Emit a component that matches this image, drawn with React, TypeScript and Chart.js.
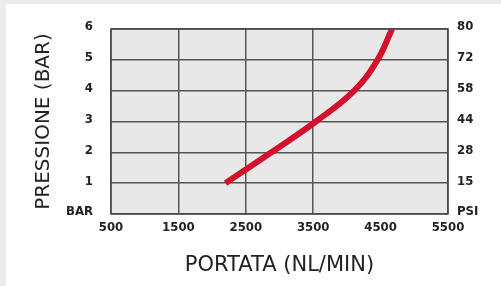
import React, { useEffect, useRef } from "react";
import { Chart, registerables } from "chart.js";

Chart.register(...registerables);

const flowValues = [2200, 2880, 3540, 4110, 4455, 4670];
const pressureValues = [1, 2, 3, 4, 5, 6];
const psiLabels = ["PSI", "15", "28", "44", "58", "72", "80"];
const barLabels = ["BAR", "1", "2", "3", "4", "5", "6"];
const xTitle = "PORTATA (NL/MIN)";
const yTitle = "PRESSIONE (BAR)";

const W = 501;
const H = 286;
const PLOT_L = 111;
const PLOT_R = 448;
const PLOT_T = 29;
const PLOT_B = 214;

const tickFont = { family: "'DejaVu Sans Condensed', sans-serif", size: 13, weight: "bold" as const };

const bgPlugin = {
  id: "bgPlugin",
  beforeDraw(chart: any) {
    const { ctx, chartArea } = chart;
    ctx.save();
    ctx.fillStyle = "#ffffff";
    ctx.fillRect(0, 0, W, H);
    ctx.fillStyle = "#ebebeb";
    ctx.fillRect(0, 0, W, 4);
    ctx.fillRect(0, 0, 6, H);
    ctx.fillStyle = "#e8e8e8";
    ctx.fillRect(chartArea.left, chartArea.top, chartArea.right - chartArea.left, chartArea.bottom - chartArea.top);
    ctx.restore();
  },
  afterDatasetsDraw(chart: any) {
    const { ctx, chartArea } = chart;
    ctx.save();
    ctx.strokeStyle = "#4a4a4a";
    ctx.lineWidth = 1.5;
    ctx.strokeRect(chartArea.left, chartArea.top, chartArea.right - chartArea.left, chartArea.bottom - chartArea.top);
    ctx.restore();
  },
};

export default function App() {
  const ref = useRef<HTMLCanvasElement>(null);
  useEffect(() => {
    document.body.style.margin = "0";
    const data = flowValues.map((x, i) => ({ x, y: pressureValues[i] }));
    const chart = new Chart(ref.current!, {
      type: "scatter",
      data: {
        datasets: [
          {
            data,
            showLine: true,
            borderColor: "#d4102c",
            borderWidth: 6,
            borderCapStyle: "butt",
            pointRadius: 0,
            tension: 0.4,
          } as any,
        ],
      },
      options: {
        responsive: false,
        animation: false,
        layout: { padding: { top: PLOT_T, bottom: 0, left: 0, right: 0 } },
        plugins: { legend: { display: false }, tooltip: { enabled: false } },
        scales: {
          x: {
            type: "linear",
            min: 500,
            max: 5500,
            ticks: {
              stepSize: 1000,
              color: "#222",
              font: tickFont,
              padding: 6,
              maxRotation: 0,
              autoSkip: false,
              callback: (v: any) => String(v),
            },
            grid: {
              color: (c: any) => (c.tick && c.tick.value === 4500 ? "rgba(0,0,0,0)" : "#555"),
              lineWidth: 1.5,
              drawTicks: false,
            },
            border: { display: false },
            title: {
              display: true,
              text: xTitle,
              color: "#222",
              font: { family: "'DejaVu Sans', sans-serif", size: 21 },
              padding: { top: 0, bottom: 8 },
            },
            afterFit: (s: any) => {
              s.height = H - PLOT_B;
            },
          },
          y: {
            type: "linear",
            position: "left",
            min: 0,
            max: 6,
            ticks: {
              stepSize: 1,
              color: "#222",
              font: tickFont,
              padding: 18,
              labelOffset: -2,
              callback: (v: any) => barLabels[v] ?? "",
            },
            grid: { color: "#555", lineWidth: 1.5, drawTicks: false },
            border: { display: false },
            title: {
              display: true,
              text: yTitle,
              color: "#222",
              font: { family: "'DejaVu Sans', sans-serif", size: 20 },
              padding: { top: 32, bottom: 0 },
            },
            afterFit: (s: any) => {
              s.width = PLOT_L;
            },
          },
          y2: {
            type: "linear",
            position: "right",
            min: 0,
            max: 6,
            ticks: {
              stepSize: 1,
              color: "#222",
              font: tickFont,
              padding: 9,
              labelOffset: -2,
              callback: (v: any) => psiLabels[v] ?? "",
            },
            grid: { display: false, drawTicks: false },
            border: { display: false },
            afterFit: (s: any) => {
              s.width = W - PLOT_R;
            },
          },
        },
      },
      plugins: [bgPlugin],
    });
    return () => chart.destroy();
  }, []);
  return (
    <div style={{ width: W, height: H }}>
      <canvas ref={ref} width={W} height={H} style={{ display: "block" }} />
    </div>
  );
}
